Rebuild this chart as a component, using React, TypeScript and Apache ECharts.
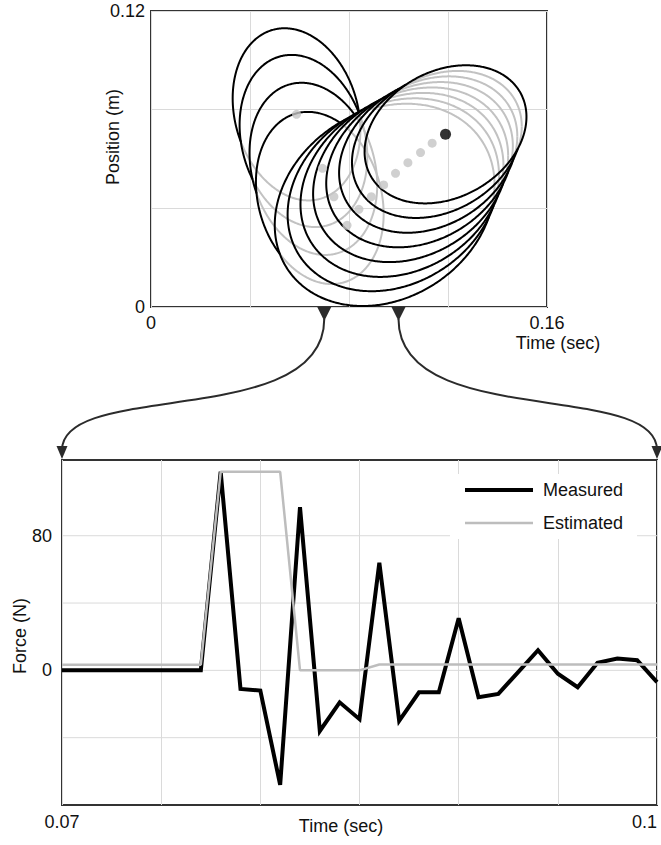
import React, { useEffect, useRef } from "react";
import * as echarts from "echarts";

const FONT = "'Liberation Sans', Arial, Helvetica, sans-serif";

// ---------- top panel: position vs time with uncertainty ellipses ----------
const trackTimeMin = 0;
const trackTimeMax = 0.16;
const trackPosMin = 0;
const trackPosMax = 0.12;
const trackTimeLabels = ["0", "0.16"];
const trackPosLabels = ["0", "0.12"];

// ellipse centres (sec, m), half extents, and tilt (offset in m of the right-most point)
const ellipseTime = [0.0588, 0.0616, 0.0656, 0.0682, 0.0944, 0.0979, 0.1014, 0.1049, 0.1085, 0.112, 0.1155, 0.119];
const ellipsePos = [0.0781, 0.0673, 0.056, 0.0442, 0.0414, 0.0455, 0.0495, 0.0536, 0.0577, 0.0618, 0.0659, 0.07];
const ellipseHalfTime = [0.0258, 0.0258, 0.0258, 0.0258, 0.0444, 0.0427, 0.041, 0.0394, 0.0377, 0.036, 0.0343, 0.0327];
const ellipseHalfPos = [0.0349, 0.0349, 0.0349, 0.0349, 0.041, 0.0391, 0.0373, 0.0354, 0.0335, 0.0317, 0.0298, 0.028];
const ellipseTilt = [-0.0065, -0.0065, -0.0065, -0.0065, 0.0082, 0.008, 0.0079, 0.0077, 0.0076, 0.0074, 0.0073, 0.0071];

// estimate points (last one = current estimate, drawn black)
const dotTime = [0.0588, 0.0693, 0.0739, 0.0792, 0.084, 0.089, 0.094, 0.0988, 0.1038, 0.1089, 0.1136, 0.119];
const dotPos = [0.0781, 0.0562, 0.0447, 0.0331, 0.0396, 0.0447, 0.0495, 0.0542, 0.0585, 0.0626, 0.0664, 0.07];

// ---------- bottom panel: force vs time ----------
const forceTimeMin = 0.07;
const forceTimeMax = 0.1;
const forceMin = -80;
const forceMax = 125;
const forceTimeLabels = ["0.07", "0.1"];
const forceLabels = ["0", "80"];
const forceGridValues = [-40, 0, 40, 80];

const forceTime = [
  0.07, 0.071, 0.072, 0.073, 0.074, 0.075, 0.076, 0.077, 0.078, 0.079, 0.08,
  0.081, 0.082, 0.083, 0.084, 0.085, 0.086, 0.087, 0.088, 0.089, 0.09,
  0.091, 0.092, 0.093, 0.094, 0.095, 0.096, 0.097, 0.098, 0.099, 0.1,
];
const measured = [
  0, 0, 0, 0, 0, 0, 0, 0, 118, -11, -12,
  -68, 97, -36, -19, -29, 64, -30, -13, -13, 31,
  -16, -14, -1, 12, -2, -10, 4.5, 7, 6, -7,
];
const estimated = [
  3.4, 3.4, 3.4, 3.4, 3.4, 3.4, 3.4, 3.4, 118, 118, 118,
  118, 0, 0, 0, 0, 3.5, 3.5, 3.5, 3.5, 3.5,
  3.5, 3.5, 3.5, 3.5, 3.5, 3.5, 3.5, 3.5, 3.5, 3.5,
];

// ---------- ellipse geometry (data space) ----------
function ellipsePoint(i: number, th: number): number[] {
  const W = ellipseHalfTime[i];
  const H = ellipseHalfPos[i];
  const s = ellipseTilt[i];
  const h = Math.sqrt(Math.max(H * H - s * s, 1e-12));
  return [ellipseTime[i] + W * Math.cos(th), ellipsePos[i] + s * Math.cos(th) + h * Math.sin(th)];
}

function insideLater(i: number, p: number[]): boolean {
  for (let j = i + 1; j < ellipseTime.length; j++) {
    const W = ellipseHalfTime[j];
    const H = ellipseHalfPos[j];
    const s = ellipseTilt[j];
    const h = Math.sqrt(Math.max(H * H - s * s, 1e-12));
    const a = (p[0] - ellipseTime[j]) / W;
    const b = (p[1] - ellipsePos[j] - s * a) / h;
    if (a * a + b * b < 0.999) return true;
  }
  return false;
}

function ellipseRuns(i: number, wantInside: boolean): number[][][] {
  const N = 480;
  const runs: number[][][] = [];
  let cur: number[][] | null = null;
  const step = (Math.PI * 2) / N;
  for (let k = 0; k <= N; k++) {
    const pt = ellipsePoint(i, k * step);
    const inside = insideLater(i, pt);
    if (inside === wantInside) {
      if (!cur) {
        cur = [];
        if (k > 0) cur.push(ellipsePoint(i, (k - 0.5) * step));
      }
      cur.push(pt);
    } else if (cur) {
      cur.push(ellipsePoint(i, (k - 0.5) * step));
      runs.push(cur);
      cur = null;
    }
  }
  if (cur) runs.push(cur);
  return runs;
}

function ellipseRenderer(wantInside: boolean, color: string, width: number) {
  return (params: any, api: any) => {
    const i = api.value(2);
    const runs = ellipseRuns(i, wantInside);
    return {
      type: "group",
      children: runs.map((r) => ({
        type: "polyline",
        shape: { points: r.map((p) => api.coord(p)) },
        style: { stroke: color, lineWidth: width, fill: "none" },
      })),
    };
  };
}

function labelFormatter(labels: string[]) {
  return (v: number) => {
    for (const l of labels) if (Math.abs(v - parseFloat(l)) < 1e-9) return l;
    return "";
  };
}

const textBase = { fontFamily: FONT, fontSize: 18, color: "#111" };

export default function App() {
  const ref = useRef<HTMLDivElement>(null);

  useEffect(() => {
    document.body.style.margin = "0";
    document.body.style.overflow = "hidden";
    const chart = echarts.init(ref.current!, null, { renderer: "svg" });
    const ellipseData = ellipseTime.map((t, i) => [t, ellipsePos[i], i]);
    const grayDots = dotTime.slice(0, -1).map((t, i) => [t, dotPos[i]]);
    const lastDot = [[dotTime[dotTime.length - 1], dotPos[dotPos.length - 1]]];

    chart.setOption({
      animation: false,
      textStyle: { fontFamily: FONT },
      grid: [
        {
          left: 151, top: 11, width: 396, height: 296, show: true, borderColor: "#333", borderWidth: 2,
          backgroundColor: "transparent", containLabel: false, outerBoundsMode: "none",
        },
        {
          left: 62, top: 460, width: 595, height: 345, show: true, borderColor: "#333", borderWidth: 2,
          backgroundColor: "transparent", containLabel: false, outerBoundsMode: "none",
        },
      ],
      xAxis: [
        {
          type: "value", gridIndex: 0, min: trackTimeMin, max: trackTimeMax, interval: 0.04,
          axisLine: { show: false }, axisTick: { show: false },
          splitLine: { lineStyle: { color: "#dadada", width: 1 } },
          axisLabel: { ...textBase, margin: 7, formatter: labelFormatter(trackTimeLabels) },
        },
        {
          type: "value", gridIndex: 1, min: forceTimeMin, max: forceTimeMax, interval: 0.005,
          axisLine: { show: false }, axisTick: { show: false },
          splitLine: { lineStyle: { color: "#dadada", width: 1 } },
          axisLabel: {
            ...textBase, margin: 8, formatter: labelFormatter(forceTimeLabels),
            alignMaxLabel: "right",
          },
        },
      ],
      yAxis: [
        {
          type: "value", gridIndex: 0, min: trackPosMin, max: trackPosMax, interval: 0.04,
          axisLine: { show: false }, axisTick: { show: false },
          splitLine: { lineStyle: { color: "#dadada", width: 1 } },
          axisLabel: { ...textBase, margin: 6, formatter: labelFormatter(trackPosLabels) },
        },
        {
          type: "value", gridIndex: 1, min: forceMin, max: forceMax, interval: 40,
          axisLine: { show: false }, axisTick: { show: false },
          splitLine: { show: false },
          axisLabel: { ...textBase, margin: 10, formatter: labelFormatter(forceLabels) },
        },
      ],
      legend: {
        data: [
          { name: "Measured", icon: "path://M0,0h68v4h-68z" },
          { name: "Estimated", icon: "path://M0,0h68v2.5h-68z" },
        ],
        orient: "vertical",
        left: 450,
        top: 474,
        itemWidth: 68,
        itemHeight: 14,
        itemGap: 15,
        symbolKeepAspect: true,
        padding: [7, 14, 7, 15],
        backgroundColor: "#fff",
        textStyle: { fontFamily: FONT, fontSize: 18, color: "#111", padding: [0, 0, 0, 5] },
      },
      series: [
        {
          type: "custom", name: "ellipsesHidden", xAxisIndex: 0, yAxisIndex: 0, z: 2,
          data: ellipseData, encode: { x: 0, y: 1 }, silent: true,
          renderItem: ellipseRenderer(true, "#c2c2c2", 2),
        },
        {
          type: "custom", name: "ellipsesVisible", xAxisIndex: 0, yAxisIndex: 0, z: 3,
          data: ellipseData, encode: { x: 0, y: 1 }, silent: true,
          renderItem: ellipseRenderer(false, "#000", 2),
        },
        {
          type: "scatter", name: "estimates", xAxisIndex: 0, yAxisIndex: 0, z: 4,
          data: grayDots, symbolSize: 9, itemStyle: { color: "#c4c4c4" }, silent: true,
        },
        {
          type: "scatter", name: "current", xAxisIndex: 0, yAxisIndex: 0, z: 5,
          data: lastDot, symbolSize: 11, itemStyle: { color: "#000" }, silent: true,
        },
        {
          type: "custom", name: "forceGrid", xAxisIndex: 1, yAxisIndex: 1, z: 1, silent: true,
          data: forceGridValues.map((v) => [forceTimeMin, v]), encode: { x: 0, y: 1 },
          renderItem: (params: any, api: any) => {
            const p1 = api.coord([forceTimeMin, api.value(1)]);
            const p2 = api.coord([forceTimeMax, api.value(1)]);
            return {
              type: "line",
              shape: { x1: p1[0], y1: p1[1], x2: p2[0], y2: p2[1] },
              style: { stroke: "#dadada", lineWidth: 1 },
            };
          },
        },
        {
          type: "line", name: "Measured", xAxisIndex: 1, yAxisIndex: 1, z: 3,
          data: forceTime.map((t, i) => [t, measured[i]]),
          symbol: "none", showSymbol: false,
          itemStyle: { color: "#000" },
          lineStyle: { color: "#000", width: 4, join: "miter", miterLimit: 3 },
        },
        {
          type: "line", name: "Estimated", xAxisIndex: 1, yAxisIndex: 1, z: 4,
          data: forceTime.map((t, i) => [t, estimated[i]]),
          symbol: "none", showSymbol: false,
          itemStyle: { color: "#bdbdbd" },
          lineStyle: { color: "#bdbdbd", width: 2.5 },
        },
      ],
    });

    // connectors from the zoom window on the top time axis to the bottom panel
    const a0 = chart.convertToPixel({ gridIndex: 0 }, [forceTimeMin, trackPosMin]) as number[];
    const a1 = chart.convertToPixel({ gridIndex: 0 }, [forceTimeMax, trackPosMin]) as number[];
    const b0 = chart.convertToPixel({ gridIndex: 1 }, [forceTimeMin, forceMax]) as number[];
    const b1 = chart.convertToPixel({ gridIndex: 1 }, [forceTimeMax, forceMax]) as number[];
    const dark = "#2b2b2b";
    const marker = (p: number[]) => ({
      type: "polygon", z: 10,
      shape: { points: [[p[0] - 7, p[1]], [p[0] + 7, p[1]], [p[0], p[1] + 14]] },
      style: { fill: dark },
    });
    const arrow = (p: number[]) => ({
      type: "polygon", z: 10,
      shape: { points: [[p[0] - 5.5, p[1] - 14], [p[0] + 5.5, p[1] - 14], [p[0], p[1] - 1]] },
      style: { fill: dark },
    });
    const curve = (s: number[], e: number[]) => ({
      type: "bezierCurve", z: 9,
      shape: {
        x1: s[0], y1: s[1] + 12,
        cpx1: s[0], cpy1: s[1] + 123,
        cpx2: e[0], cpy2: e[1] - 80,
        x2: e[0], y2: e[1] - 10,
      },
      style: { stroke: dark, lineWidth: 2, fill: "none" },
    });
    const txt = (text: string, x: number, y: number, rot = 0) => ({
      type: "text", x, y, rotation: rot, z: 10,
      style: {
        text, font: `18px ${FONT}`, fill: "#111",
        textAlign: "center", textVerticalAlign: "middle",
        align: "center", verticalAlign: "middle",
      },
    });
    chart.setOption({
      graphic: [
        marker(a0), marker(a1),
        curve(a0, b0), curve(a1, b1),
        arrow(b0), arrow(b1),
        txt("Position (m)", 113, 137, Math.PI / 2),
        txt("Time (sec)", 558, 343),
        txt("Force (N)", 20, 636, Math.PI / 2),
        txt("Time (sec)", 341, 826),
      ],
    });

    return () => chart.dispose();
  }, []);

  return <div ref={ref} style={{ width: 661, height: 845 }} />;
}
